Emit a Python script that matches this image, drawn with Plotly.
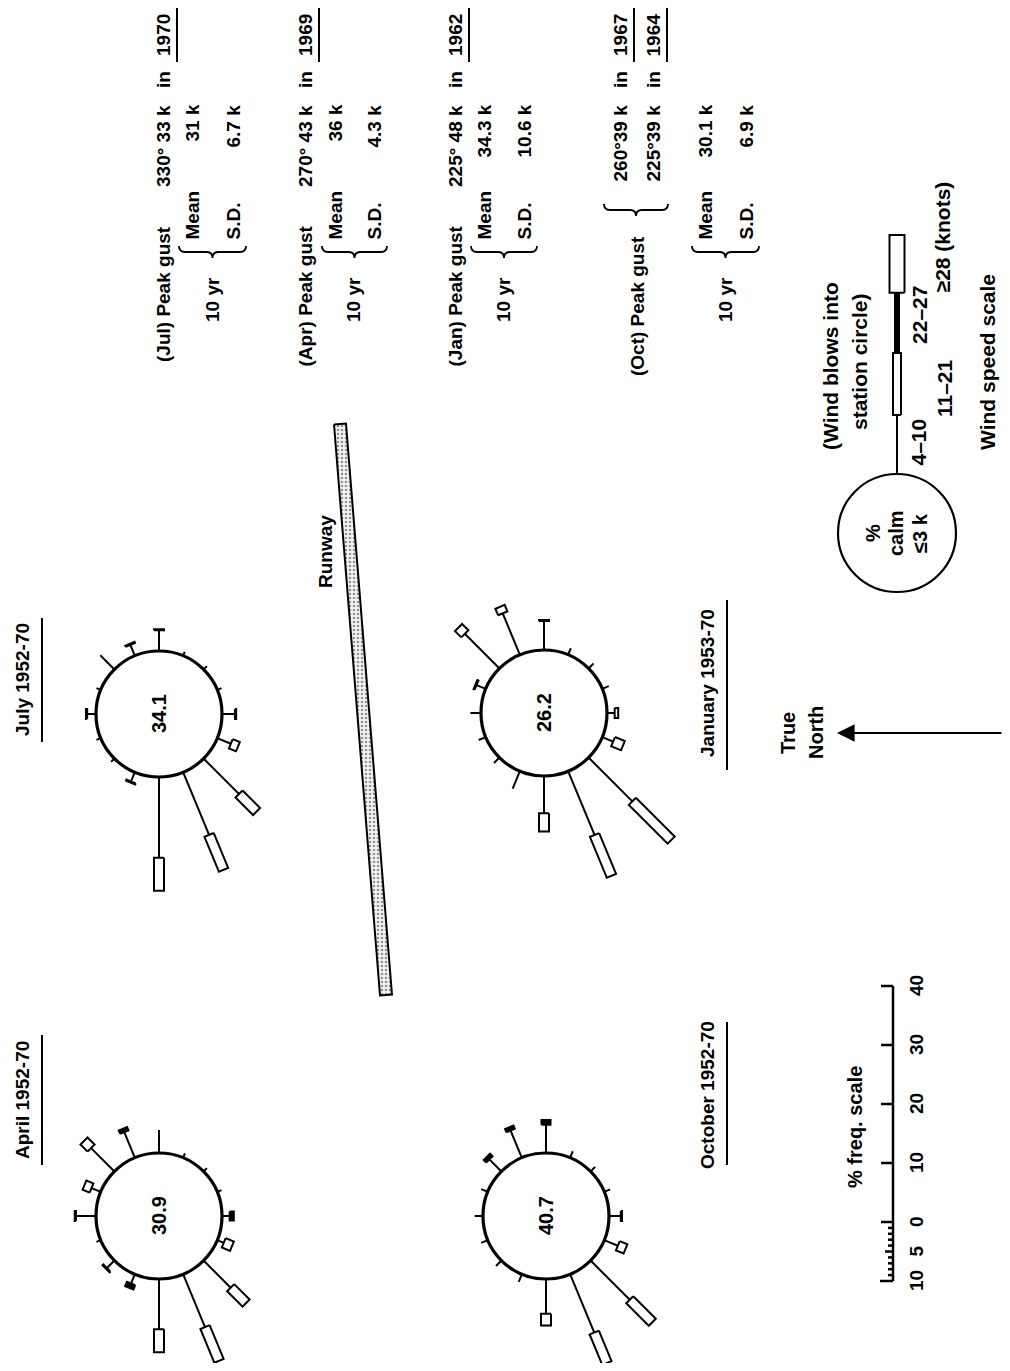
import math
import plotly.graph_objects as go

W, H = 1010, 1371
BODY = 8              # default page margin of the html body
PX_PER_PCT = 5.9      # length of 1 % frequency on the page
R_STATION = 63        # radius of a station circle

# 16 compass points, degrees clockwise from true north
directions = [0, 22.5, 45, 67.5, 90, 112.5, 135, 157.5,
              180, 202.5, 225, 247.5, 270, 292.5, 315, 337.5]

# % frequency of winds 4-10 k, 11-21 k and 22-27 k from each direction (N .. NNW)
jul_4_10 = [1.5, 0.8, 3.4, 2.0, 3.5, 0.7, 0.8, 0.8, 2.2, 2.5, 8.5, 11.5, 13.7, 1.7, 0.8, 0.8]
jul_11_21 = [0.2, 0, 0, 0.2, 0.2, 0, 0, 0, 0.2, 1.3, 4.2, 6.4, 5.6, 0.2, 0, 0]
jul_22_27 = [0, 0, 0, 0, 0, 0, 0, 0, 0, 0, 0, 0, 0, 0, 0, 0]
apr_4_10 = [3.4, 1.7, 5.6, 4.7, 3.9, 0.8, 0.8, 0.8, 1.3, 1.2, 6.5, 9.7, 8.5, 1.7, 1.8, 0.8]
apr_11_21 = [0.2, 1.3, 1.7, 0, 0, 0, 0, 0, 0, 1.5, 3.7, 6.2, 3.9, 0, 0.2, 0]
apr_22_27 = [0, 0, 0, 0.6, 0, 0, 0, 0, 0.7, 0, 0, 0, 0, 0.8, 0, 0]
jan_4_10 = [1.8, 1.7, 8.3, 7.6, 4.9, 1.2, 1.2, 1.2, 1.3, 2.0, 10.5, 11.7, 6.3, 3.2, 1.3, 1.3]
jan_11_21 = [0, 0.2, 1.5, 1.2, 0.2, 0, 0, 0, 0.6, 1.8, 9.3, 7.5, 3.1, 0, 0, 0]
jan_22_27 = [0, 0, 0, 0, 0, 0, 0, 0, 0, 0, 0, 0, 0, 0, 0, 0]
oct_4_10 = [1.4, 1.2, 2.9, 5.0, 4.8, 1.2, 1.1, 1.1, 2.0, 2.5, 9.4, 10.7, 5.9, 1.4, 1.3, 1.2]
oct_11_21 = [0, 0, 0, 0, 0, 0, 0, 0, 0.2, 1.4, 5.4, 5.6, 2.0, 0, 0, 0]
oct_22_27 = [0, 0, 0.6, 0.6, 0.8, 0, 0, 0, 0, 0, 0, 0, 0, 0, 0, 0]

rose_names = ["July 1952-70", "April 1952-70", "January 1953-70", "October 1952-70"]
calm_pct = [34.1, 30.9, 26.2, 40.7]

gust_month = ["Jul", "Apr", "Jan", "Oct"]
gust_value = ["330° 33 k", "270° 43 k", "225° 48 k", "260°39 k", "225°39 k"]
gust_year = ["1970", "1969", "1962", "1967", "1964"]
mean_10yr = ["31 k", "36 k", "34.3 k", "30.1 k"]
sd_10yr = ["6.7 k", "4.3 k", "10.6 k", "6.9 k"]

speed_classes = ["4–10", "11–21", "22–27", "≥28 (knots)"]
legend_pct = [10, 10.5, 10.2, 9.8]   # drawn length of each class in the legend bar

freq_ticks = [0, 10, 20, 30, 40]
freq_fine = [0, 1, 2, 3, 4, 5, 6, 7, 8, 9, 10]

FONT = "Liberation Sans, Arial, sans-serif"

fig = go.Figure()
shapes = []
notes = []


def txt(x, y, s, size=19, xa="center", ya="middle", bold=True):
    notes.append(dict(x=x, y=y, text=s, showarrow=False, textangle=-90,
                      xanchor=xa, yanchor=ya,
                      font=dict(family=FONT, size=size, color="black",
                                weight="bold" if bold else "normal")))


def unit(theta):
    # page is turned: true north points left, east points up
    t = math.radians(theta)
    return -math.cos(t), -math.sin(t)


def brace(xa, xb, y, q=6):
    xm = (xa + xb) / 2
    p = (f"M{xa},{y - q} Q{xa},{y} {xa + q},{y} L{xm - q},{y} "
         f"Q{xm},{y} {xm},{y + q} Q{xm},{y} {xm + q},{y} "
         f"L{xb - q},{y} Q{xb},{y} {xb},{y - q}")
    shapes.append(dict(type="path", path=p, xref="x", yref="y",
                       line=dict(color="black", width=1.8)))


def box(cx, cy, ux, uy, r1, r2, hw, xs, ys):
    px, py = -uy, ux
    for r, w in [(r1, -hw), (r2, -hw), (r2, hw), (r1, hw), (r1, -hw)]:
        xs.append(cx + ux * r + px * w)
        ys.append(cy + uy * r + py * w)
    xs.append(None)
    ys.append(None)


# ---- wind roses ----
rose_data = [(jul_4_10, jul_11_21, jul_22_27), (apr_4_10, apr_11_21, apr_22_27),
             (jan_4_10, jan_11_21, jan_22_27), (oct_4_10, oct_11_21, oct_22_27)]
centers = [(159, 714), (159, 1216), (544, 713), (546, 1216)]

thin_x, thin_y, box_x, box_y, blk_x, blk_y = [], [], [], [], [], []
for (light, mod, strong), (cx, cy), calm in zip(rose_data, centers, calm_pct):
    for th, a, b, c in zip(directions, light, mod, strong):
        ux, uy = unit(th)
        r1 = R_STATION + a * PX_PER_PCT
        r2 = r1 + b * PX_PER_PCT
        thin_x += [cx + ux * R_STATION, cx + ux * r1, None]
        thin_y += [cy + uy * R_STATION, cy + uy * r1, None]
        if b > 0:
            box(cx, cy, ux, uy, r1, r2, 5, box_x, box_y)
        if c > 0:
            box(cx, cy, ux, uy, r2, r2 + c * PX_PER_PCT, 4.5, blk_x, blk_y)
    shapes.append(dict(type="circle", xref="x", yref="y",
                       x0=cx - R_STATION, x1=cx + R_STATION,
                       y0=cy - R_STATION, y1=cy + R_STATION,
                       line=dict(color="black", width=3.2), fillcolor="white"))
    txt(cx, cy, f"{calm}", size=20)

fig.add_trace(go.Scatter(x=thin_x, y=thin_y, mode="lines",
                         line=dict(color="black", width=2), hoverinfo="skip"))
fig.add_trace(go.Scatter(x=box_x, y=box_y, mode="lines", fill="toself",
                         fillcolor="white", line=dict(color="black", width=2),
                         hoverinfo="skip"))
fig.add_trace(go.Scatter(x=blk_x, y=blk_y, mode="lines", fill="toself",
                         fillcolor="black", line=dict(color="black", width=2),
                         hoverinfo="skip"))

# rose titles
for name, (tx, ty), (u0, u1) in zip(rose_names,
                                    [(22, 680), (22, 1100), (707, 683), (707, 1095)],
                                    [(618, 742), (1035, 1165), (600, 770), (1022, 1165)]):
    txt(tx, ty, name, size=19)
    shapes.append(dict(type="line", xref="x", yref="y", x0=tx + 20, x1=tx + 20,
                       y0=u0, y1=u1, line=dict(color="black", width=2)))

# ---- runway ----
rx0, ry0, rx1, ry1, hw = 340, 424, 386, 995, 6
L = math.hypot(rx1 - rx0, ry1 - ry0)
nx, ny = -(ry1 - ry0) / L * hw, (rx1 - rx0) / L * hw
fig.add_trace(go.Scatter(
    x=[rx0 + nx, rx1 + nx, rx1 - nx, rx0 - nx, rx0 + nx],
    y=[ry0 + ny, ry1 + ny, ry1 - ny, ry0 - ny, ry0 + ny],
    mode="lines", fill="toself", line=dict(color="black", width=2),
    fillcolor="#f2f2f2",
    fillpattern=dict(shape=".", size=4, solidity=0.35, fgcolor="#333333", bgcolor="#f4f4f4"),
    hoverinfo="skip"))
txt(325, 552, "Runway", size=19)

# ---- true north arrow ----
notes.append(dict(x=837, y=733, ax=1003, ay=733, xref="x", yref="y", axref="x", ayref="y",
                  showarrow=True, arrowhead=2, arrowsize=1.6, arrowwidth=2.2,
                  arrowcolor="black", text=""))
txt(788, 733, "True", size=20)
txt(816, 733, "North", size=20)

# ---- percent frequency scale ----
AX_X, Y0 = 893, 1222
fx, fy = [AX_X, AX_X], [Y0 + freq_fine[-1] * PX_PER_PCT, Y0 - freq_ticks[-1] * PX_PER_PCT]
fx.append(None)
fy.append(None)
for v in freq_ticks:
    y = Y0 - v * PX_PER_PCT
    fx += [AX_X - 12, AX_X, None]
    fy += [y, y, None]
    txt(AX_X + 23, y, str(v), size=19)
for v in freq_fine[1:]:
    y = Y0 + v * PX_PER_PCT
    ln = 13 if v == 10 else (8 if v == 5 else 5)
    fx += [AX_X - ln, AX_X, None]
    fy += [y, y, None]
    if v in (5, 10):
        txt(AX_X + 23, y, str(v), size=19)
fig.add_trace(go.Scatter(x=fx, y=fy, mode="lines", line=dict(color="black", width=2.5),
                         hoverinfo="skip"))
txt(855, 1127, "% freq. scale", size=20)

# ---- wind speed scale (legend) ----
LX, LY, LR = 897, 533, 59
shapes.append(dict(type="circle", xref="x", yref="y", x0=LX - LR, x1=LX + LR,
                   y0=LY - LR, y1=LY + LR, line=dict(color="black", width=2.2)))
txt(873, LY, "%", size=20)
txt(896, LY, "calm", size=20)
txt(920, LY, "≤3 k", size=20)
seg_y = [LY - LR]
for p in legend_pct:
    seg_y.append(seg_y[-1] - p * PX_PER_PCT)
fig.add_trace(go.Scatter(x=[LX, LX], y=[seg_y[0], seg_y[1]], mode="lines",
                         line=dict(color="black", width=2), hoverinfo="skip"))
lbx, lby = [], []
box(LX, 0, 0, 1, seg_y[1], seg_y[2], 4, lbx, lby)
box(LX, 0, 0, 1, seg_y[3], seg_y[4], 7.5, lbx, lby)
fig.add_trace(go.Scatter(x=lbx, y=lby, mode="lines", fill="toself", fillcolor="white",
                         line=dict(color="black", width=2), hoverinfo="skip"))
tbx, tby = [], []
box(LX, 0, 0, 1, seg_y[2], seg_y[3], 2.5, tbx, tby)
fig.add_trace(go.Scatter(x=tbx, y=tby, mode="lines", fill="toself", fillcolor="black",
                         line=dict(color="black", width=1), hoverinfo="skip"))
txt(918, (seg_y[0] + seg_y[1]) / 2 - 2, speed_classes[0], size=21)
txt(944, (seg_y[1] + seg_y[2]) / 2 + 4, speed_classes[1], size=21)
txt(920, (seg_y[2] + seg_y[3]) / 2 - 8, speed_classes[2], size=21)
txt(942, seg_y[3] + 2, speed_classes[3], size=21, ya="bottom")
txt(830, 366, "(Wind blows into", size=21)
txt(859, 362, "station circle)", size=21)
txt(987, 362, "Wind speed scale", size=21)

# ---- peak gust / 10 yr statistics ----
blocks = [(163, 192, 212, 233), (305, 335, 353, 374), (455, 484, 503, 524), (None, 705, 725, 746)]
for i, (gx, mx, yx, sx) in enumerate(blocks):
    if gx is not None:
        txt(gx, 224, f"({gust_month[i]}) Peak gust", ya="top")
        txt(gx, 103, gust_value[i], ya="top")
        txt(gx, 80, "in")
        txt(gx, 12, gust_year[i], ya="top")
        shapes.append(dict(type="line", xref="x", yref="y", x0=gx + 14, x1=gx + 14,
                           y0=0, y1=62, line=dict(color="black", width=2)))
    txt(mx, 242, "Mean", ya="bottom")
    txt(mx, 103, mean_10yr[i], ya="top")
    txt(sx, 242, "S.D.", ya="bottom")
    txt(sx, 103, sd_10yr[i], ya="top")
    txt(yx, 300, "10 yr")
    brace(mx - 13, sx + 13, 252)

# October has two peak gusts
txt(637, 234, "(Oct) Peak gust", ya="top")
brace(604, 668, 210)
for gx, val, yr in zip([620, 653], gust_value[3:], gust_year[3:]):
    txt(gx, 103, val, ya="top")
    txt(gx, 80, "in")
    txt(gx, 12, yr, ya="top")
    shapes.append(dict(type="line", xref="x", yref="y", x0=gx + 14, x1=gx + 14,
                       y0=0, y1=62, line=dict(color="black", width=2)))

# the html body keeps an 8 px margin, so the plot area is shifted by it
fig.update_layout(
    width=W - 2 * BODY, height=H - 2 * BODY,
    margin=dict(l=0, r=0, t=0, b=0),
    paper_bgcolor="white", plot_bgcolor="white",
    showlegend=False,
    xaxis=dict(range=[BODY, W - BODY], visible=False, fixedrange=True),
    yaxis=dict(range=[H - BODY, BODY], visible=False, fixedrange=True),
    shapes=shapes,
    annotations=notes,
)

fig.write_html("out.html")
